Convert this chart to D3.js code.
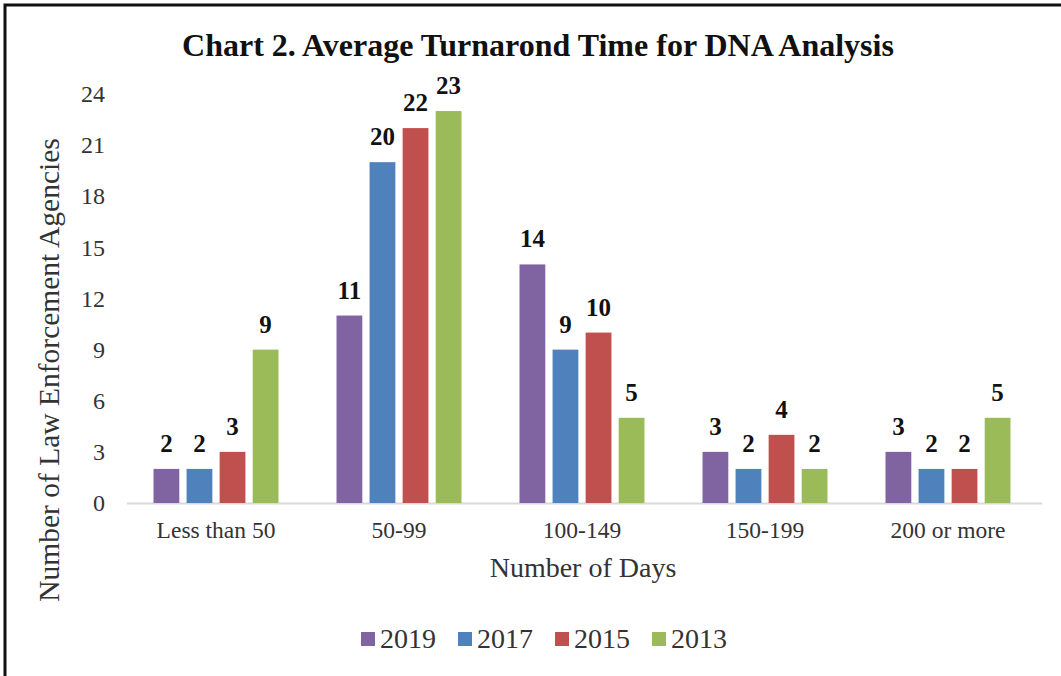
<!DOCTYPE html>
<html>
<head>
<meta charset="utf-8">
<script src="https://cdn.jsdelivr.net/npm/d3@7"></script>
<style>
  html, body { margin: 0; padding: 0; background: #fff; }
  svg { display: block; }
  text { font-family: "Liberation Serif", "Times New Roman", serif; fill: #262626; }
</style>
</head>
<body>
<svg id="chart" width="1061" height="676"></svg>
<script>
const categories = ["Less than 50", "50-99", "100-149", "150-199", "200 or more"];
const seriesNames = ["2019", "2017", "2015", "2013"];
const values2019 = [2, 11, 14, 3, 3];
const values2017 = [2, 20, 9, 2, 2];
const values2015 = [3, 22, 10, 4, 2];
const values2013 = [9, 23, 5, 2, 5];
const yTicks = [0, 3, 6, 9, 12, 15, 18, 21, 24];
const colors = ["#8064A2", "#4F81BD", "#C0504D", "#9BBB59"];

const seriesValues = [values2019, values2017, values2015, values2013];

const svg = d3.select("#chart");

// frame
svg.append("rect").attr("x", 5).attr("y", 5).attr("width", 1200).attr("height", 800)
  .attr("fill", "none").attr("stroke", "#111").attr("stroke-width", 3);

const x0 = d3.scaleBand().domain(categories).range([124.5, 1039.5])
  .paddingInner(0.317).paddingOuter(0.1585);
const x1 = d3.scaleBand().domain(seriesNames).range([0, x0.bandwidth()]).paddingInner(0.22);
const y = d3.scaleLinear().domain([0, 24]).range([503, 94]);

// title
svg.append("text").attr("x", 538).attr("y", 56).attr("text-anchor", "middle")
  .attr("font-size", 32).attr("font-weight", "bold").style("fill", "#111")
  .text("Chart 2. Average Turnarond Time for DNA Analysis");

// y axis labels (no line)
const yAxis = d3.axisLeft(y).tickValues(yTicks).tickSize(0).tickPadding(0);
const yg = svg.append("g").attr("transform", "translate(105,0)").call(yAxis);
yg.select(".domain").remove();
yg.selectAll("text").attr("font-size", 24).attr("font-family", "Liberation Serif").style("fill", "#333");

// x axis
const xAxis = d3.axisBottom(x0).tickSize(0).tickPadding(18);
const xg = svg.append("g").attr("transform", "translate(0,503)").call(xAxis);
xg.select(".domain").attr("stroke", "#d9d9d9").attr("stroke-width", 2)
  .attr("d", "M127,0.5H1042");
xg.selectAll("text").attr("font-size", 23.5).attr("font-family", "Liberation Serif").style("fill", "#333");

// bars
const data = [];
categories.forEach((c, i) => {
  seriesNames.forEach((s, j) => {
    data.push({ cat: c, series: s, value: seriesValues[j][i], color: colors[j] });
  });
});

svg.append("g").selectAll("rect").data(data).join("rect")
  .attr("x", d => x0(d.cat) + x1(d.series))
  .attr("y", d => y(d.value))
  .attr("width", x1.bandwidth())
  .attr("height", d => y(0) - y(d.value))
  .attr("fill", d => d.color);

svg.append("g").selectAll("text").data(data).join("text")
  .attr("x", d => x0(d.cat) + x1(d.series) + x1.bandwidth() / 2)
  .attr("y", d => y(d.value) - 17)
  .attr("text-anchor", "middle")
  .attr("font-size", 25).attr("font-weight", "bold").style("fill", "#111")
  .text(d => d.value);

// axis titles
svg.append("text").attr("x", 583).attr("y", 577).attr("text-anchor", "middle")
  .attr("font-size", 28).style("fill", "#333").text("Number of Days");
svg.append("text").attr("transform", "translate(59,370) rotate(-90)").attr("text-anchor", "middle")
  .attr("font-size", 29.5).style("fill", "#333").text("Number of Law Enforcement Agencies");

// legend
const lg = svg.append("g").selectAll("g").data(seriesNames).join("g")
  .attr("transform", (d, i) => `translate(${361 + i * 97},0)`);
lg.append("rect").attr("x", 0).attr("y", 632).attr("width", 14).attr("height", 14)
  .attr("fill", (d, i) => colors[i]);
lg.append("text").attr("x", 19).attr("y", 648).attr("font-size", 28).style("fill", "#333").text(d => d);
</script>
</body>
</html>
